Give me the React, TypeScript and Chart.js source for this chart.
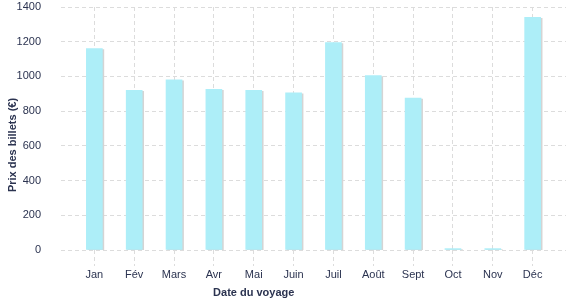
import React, { useEffect, useRef } from "react";
import { Chart, registerables } from "chart.js";

Chart.register(...registerables);

const months = ["Jan", "Fév", "Mars", "Avr", "Mai", "Juin", "Juil", "Août", "Sept", "Oct", "Nov", "Déc"];
const prices = [1160, 920, 980, 925, 920, 905, 1195, 1005, 875, 8, 8, 1340];
const yTitle = "Prix des billets (€)";
const xTitle = "Date du voyage";

const textColor = "#2b3350";
const gridColor = "#dcdcdc";
const barColor = "#adeef8";
const fontFamily = "'Liberation Sans', Arial, sans-serif";

export default function App() {
  const ref = useRef<HTMLCanvasElement>(null);
  useEffect(() => {
    document.body.style.margin = "0";
    const shadowPlugin = {
      id: "barShadow",
      beforeDatasetsDraw(chart: any) {
        const ctx = chart.ctx;
        ctx.save();
        ctx.shadowColor = "#d4d4d4";
        ctx.shadowOffsetX = 1.5;
        ctx.shadowOffsetY = 1;
        ctx.shadowBlur = 0;
      },
      afterDatasetsDraw(chart: any) {
        chart.ctx.restore();
      },
    };
    const titlePlugin = {
      id: "titles",
      afterDraw(chart: any) {
        const ctx = chart.ctx;
        const xs = chart.scales.x;
        ctx.save();
        ctx.fillStyle = textColor;
        ctx.font = `bold 11px ${fontFamily}`;
        ctx.textAlign = "center";
        ctx.textBaseline = "middle";
        ctx.fillText(xTitle, xs.getPixelForValue(4), 293);
        ctx.translate(13, 145);
        ctx.rotate(-Math.PI / 2);
        ctx.fillText(yTitle, 0, 0);
        ctx.restore();
      },
    };
    const chart = new Chart(ref.current!, {
      type: "bar",
      data: {
        datasets: [
          {
            data: prices.map((v, i) => ({ x: i, y: v })),
            backgroundColor: barColor,
            barThickness: 16,
            borderWidth: 0,
          },
        ],
      },
      options: {
        animation: false,
        responsive: true,
        maintainAspectRatio: false,
        layout: { padding: { top: 7, right: 11, left: 0, bottom: 0 } },
        plugins: { legend: { display: false }, tooltip: { enabled: false } },
        scales: {
          x: {
            type: "linear",
            min: -0.837,
            max: 11.837,
            offset: false,
            afterFit(scale: any) {
              scale.height = 50;
              scale.paddingLeft = 0;
              scale.paddingRight = 0;
            },
            grid: {
              offset: false,
              color: gridColor,
              drawTicks: true,
              tickLength: 16,
              tickColor: gridColor,
              tickBorderDash: [4, 3],
            },
            border: { display: false, dash: [4, 3] },
            ticks: {
              stepSize: 1,
              includeBounds: false,
              autoSkip: false,
              maxRotation: 0,
              padding: 2,
              color: textColor,
              font: { family: fontFamily, size: 11 },
              callback: (v: any) => (Number.isInteger(v) ? months[v] ?? "" : ""),
            },
          },
          y: {
            min: 0,
            max: 1400,
            afterFit(scale: any) {
              scale.width = 61;
              scale.paddingTop = 0;
              scale.paddingBottom = 0;
            },
            grid: { color: gridColor, drawTicks: false },
            border: { display: false, dash: [4, 3] },
            ticks: {
              stepSize: 200,
              padding: 20,
              color: textColor,
              font: { family: fontFamily, size: 11 },
              callback: (v: any) => String(v),
            },
          },
        },
      },
      plugins: [shadowPlugin, titlePlugin],
    } as any);
    return () => chart.destroy();
  }, []);
  return (
    <div style={{ width: 577, height: 300, position: "relative" }}>
      <canvas ref={ref} />
    </div>
  );
}
